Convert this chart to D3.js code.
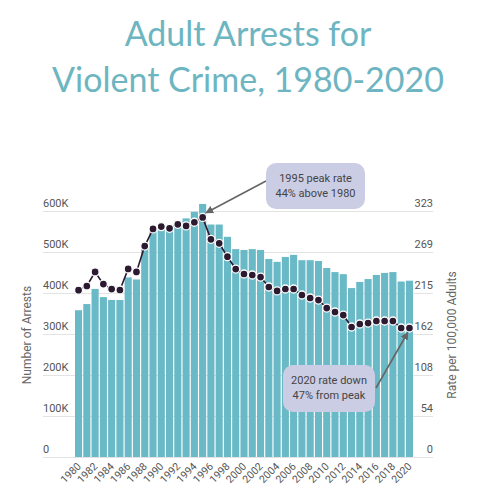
<!DOCTYPE html>
<html>
<head>
<meta charset="utf-8">
<script src="https://cdn.jsdelivr.net/npm/d3@7"></script>
<style>
  body { margin: 0; background: #fff; }
  svg { display: block; font-family: Roboto, "Noto Sans", sans-serif; }
</style>
</head>
<body>
<svg width="497" height="498"></svg>
<script>
const years = d3.range(1980, 2021);
// number of adult arrests for violent crime
const arrests = [358000, 373000, 410000, 390000, 383000, 383000, 438000, 433000, 520000, 552000,
  559000, 559000, 576000, 582000, 598000, 617000, 567000, 567000, 537000, 507000,
  505000, 507000, 505000, 483000, 476000, 488000, 493000, 480000, 480000, 478000,
  461000, 451000, 446000, 412000, 427000, 434000, 444000, 449000, 451000, 428000, 430000];
// rate per 100,000 adults
const rates = [219, 224.5, 243, 227, 220.5, 219.3, 247, 243, 277, 299.5,
  302.5, 300.3, 305.5, 303.4, 308.2, 314.5, 285.8, 280.6, 263, 246.8,
  240.3, 239, 236.3, 223.2, 218, 220.6, 220.6, 212.7, 208.8, 206.1,
  195.6, 190.4, 186.4, 170.7, 174.6, 175.9, 178.6, 178.6, 178.6, 169.4, 169.4];
const leftTicks = [0, 100000, 200000, 300000, 400000, 500000, 600000];
const rateMax = 323;
const xTicks = years.filter(y => y % 2 === 0);

const svg = d3.select('svg');
const margin = { top: 211, bottom: 41, left: 75, right: 84 };
const width = 497, height = 498;
const gridLeft = 43, gridRight = 433;

// title
svg.append('text')
  .attr('text-anchor', 'middle')
  .attr('font-family', 'Lato, "Open Sans", sans-serif')
  .attr('font-size', 34)
  .attr('fill', '#6db5c1')
  .selectAll('tspan')
  .data(['Adult Arrests for', 'Violent Crime, 1980-2020'])
  .join('tspan')
  .attr('x', 248)
  .attr('y', (d, i) => 46 + i * 46)
  .text(d => d);

const xScale = d3.scaleBand()
  .domain(years)
  .range([margin.left, width - margin.right])
  .paddingInner(0.14)
  .paddingOuter(0);

const yScale = d3.scaleLinear()
  .domain([0, 600000])
  .range([height - margin.bottom, margin.top]);

const rScale = d3.scaleLinear()
  .domain([0, rateMax])
  .range([height - margin.bottom, margin.top]);

// gridlines + tick labels
const grid = svg.append('g');
grid.selectAll('line')
  .data(leftTicks)
  .join('line')
  .attr('x1', gridLeft)
  .attr('x2', gridRight)
  .attr('y1', d => yScale(d) + 0.5)
  .attr('y2', d => yScale(d) + 0.5)
  .attr('stroke', '#e3e3e3');

grid.selectAll('text.left')
  .data(leftTicks)
  .join('text')
  .attr('class', 'left')
  .attr('x', gridLeft)
  .attr('y', d => yScale(d) - 4)
  .attr('font-size', 11)
  .attr('fill', '#555')
  .text(d => d === 0 ? '0' : (d / 1000) + 'K');

grid.selectAll('text.right')
  .data(leftTicks)
  .join('text')
  .attr('class', 'right')
  .attr('x', gridRight)
  .attr('y', d => yScale(d) - 4)
  .attr('text-anchor', 'end')
  .attr('font-size', 11)
  .attr('fill', '#555')
  .text((d, i) => Math.round(rateMax * i / 6));

// bars
svg.append('g')
  .selectAll('rect')
  .data(years)
  .join('rect')
  .attr('x', d => xScale(d))
  .attr('width', xScale.bandwidth())
  .attr('y', (d, i) => yScale(arrests[i]))
  .attr('height', (d, i) => yScale(0) - yScale(arrests[i]))
  .attr('fill', '#69b9c6');

// x labels
svg.append('g')
  .selectAll('text')
  .data(xTicks)
  .join('text')
  .attr('text-anchor', 'end')
  .attr('font-size', 10.5)
  .attr('fill', '#555')
  .attr('transform', d => `translate(${xScale(d) + xScale.bandwidth() / 2 + 3},${yScale(0) + 10})rotate(-45)`)
  .text(d => d);

// axis titles
svg.append('text')
  .attr('transform', `translate(31,335)rotate(-90)`)
  .attr('text-anchor', 'middle')
  .attr('font-size', 12)
  .attr('fill', '#666')
  .text('Number of Arrests');

svg.append('text')
  .attr('transform', `translate(456,335)rotate(-90)`)
  .attr('text-anchor', 'middle')
  .attr('font-size', 12)
  .attr('fill', '#666')
  .text('Rate per 100,000 Adults');

// rate line + dots
const cx = d => xScale(d) + xScale.bandwidth() / 2;
const line = d3.line()
  .x(d => cx(d))
  .y((d, i) => rScale(rates[i]));

svg.append('path')
  .datum(years)
  .attr('d', line)
  .attr('fill', 'none')
  .attr('stroke', '#2b1a30')
  .attr('stroke-width', 1.6);

svg.append('g')
  .selectAll('circle')
  .data(years)
  .join('circle')
  .attr('cx', d => cx(d))
  .attr('cy', (d, i) => rScale(rates[i]))
  .attr('r', 4)
  .attr('fill', '#2b1a30')
  .attr('stroke', '#fff')
  .attr('stroke-width', 1.3);

// annotations
svg.append('defs').append('marker')
  .attr('id', 'arrow')
  .attr('viewBox', '0 0 10 10')
  .attr('refX', 8)
  .attr('refY', 5)
  .attr('markerWidth', 5)
  .attr('markerHeight', 5)
  .attr('orient', 'auto')
  .append('path')
  .attr('d', 'M0,0L10,5L0,10z')
  .attr('fill', '#666');

const notes = [
  { year: 1995, lines: ['1995 peak rate', '44% above 1980'], x: 266, y: 163, w: 99, h: 46, from: [266, 181], dx: 4, dy: -5 },
  { year: 2020, lines: ['2020 rate down', '47% from peak'], x: 283, y: 365, w: 92, h: 47, from: [376, 388], dx: -2, dy: 5 }
];

notes.forEach(n => {
  const i = years.indexOf(n.year);
  svg.append('line')
    .attr('x1', n.from[0])
    .attr('y1', n.from[1])
    .attr('x2', cx(n.year) + n.dx)
    .attr('y2', rScale(rates[i]) + n.dy)
    .attr('stroke', '#666')
    .attr('stroke-width', 1.6)
    .attr('marker-end', 'url(#arrow)');
  svg.append('rect')
    .attr('x', n.x)
    .attr('y', n.y)
    .attr('width', n.w)
    .attr('height', n.h)
    .attr('rx', 10)
    .attr('fill', '#cbcde4');
  svg.append('text')
    .attr('text-anchor', 'middle')
    .attr('font-size', 11)
    .attr('fill', '#444')
    .selectAll('tspan')
    .data(n.lines)
    .join('tspan')
    .attr('x', n.x + n.w / 2)
    .attr('y', (d, j) => n.y + 19 + j * 15)
    .text(d => d);
});
</script>
</body>
</html>
